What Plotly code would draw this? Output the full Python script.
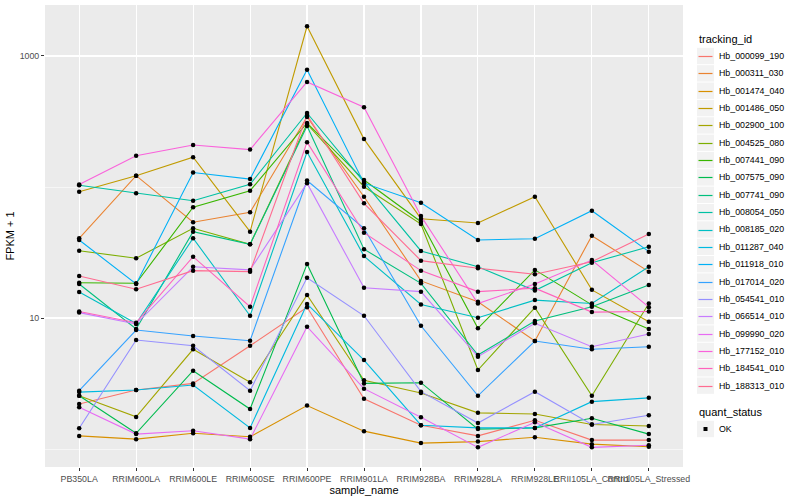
import plotly.graph_objects as go

samples = ["PB350LA", "RRIM600LA", "RRIM600LE", "RRIM600SE", "RRIM600PE", "RRIM901LA",
           "RRIM928BA", "RRIM928LA", "RRIM928LE", "RRII105LA_Control", "RRII105LA_Stressed"]

tracking_ids = ["Hb_000099_190", "Hb_000311_030", "Hb_001474_040", "Hb_001486_050", "Hb_002900_100",
                "Hb_004525_080", "Hb_007441_090", "Hb_007575_090", "Hb_007741_090", "Hb_008054_050",
                "Hb_008185_020", "Hb_011287_040", "Hb_011918_010", "Hb_017014_020", "Hb_054541_010",
                "Hb_066514_010", "Hb_099990_020", "Hb_177152_010", "Hb_184541_010", "Hb_188313_010"]

colors = ["#F8766D", "#EA8331", "#D89000", "#C09B00", "#A3A500", "#7CAE00", "#39B600", "#00BB4E",
          "#00BF7D", "#00C1A3", "#00BFC4", "#00BAE0", "#00B0F6", "#35A2FF", "#9590FF", "#C77CFF",
          "#E76BF3", "#FA62DB", "#FF62BC", "#FF6C91"]

# FPKM + 1 per tracking_id, one value per sample
fpkm_000099_190 = [2.21, 2.82, 3.17, 6.14, 12.1, 2.42, 1.52, 1.26, 1.66, 1.17, 1.17]
fpkm_000311_030 = [40.6, 122, 53.8, 64.1, 342, 84.3, 19.2, 13.3, 6.67, 42.5, 22.6]
fpkm_001474_040 = [1.26, 1.19, 1.32, 1.24, 2.15, 1.37, 1.11, 1.14, 1.23, 1.09, 1.04]
fpkm_001486_050 = [92.1, 122, 169, 45.6, 1686, 232, 57.3, 53.1, 84.3, 16.4, 9.37]
fpkm_002900_100 = [2.55, 1.76, 5.77, 3.23, 15.0, 3.35, 2.68, 1.89, 1.85, 1.54, 1.50]
fpkm_004525_080 = [32.6, 28.6, 48.4, 36.5, 303, 100.5, 52.2, 4.01, 12.0, 2.55, 12.9]
fpkm_007441_090 = [18.6, 18.4, 70.0, 93.7, 308, 113, 54.3, 8.34, 23.3, 12.6, 8.24]
fpkm_007575_090 = [2.55, 1.32, 3.96, 2.02, 25.8, 3.17, 3.21, 1.42, 1.45, 1.72, 1.30]
fpkm_007741_090 = [18.2, 8.24, 45.6, 36.5, 292, 33.5, 18.4, 5.22, 9.49, 12.2, 17.9]
fpkm_008054_050 = [103, 89.5, 78.6, 105, 367, 109, 32.5, 24.6, 16.2, 26.4, 35.0]
fpkm_008185_020 = [15.8, 9.08, 40.6, 10.4, 185, 29.7, 12.7, 10.05, 13.7, 12.9, 24.6]
fpkm_011287_040 = [2.72, 2.82, 3.08, 1.45, 12.8, 4.78, 1.52, 1.45, 1.45, 2.30, 2.46]
fpkm_011918_010 = [39.4, 18.2, 129, 115, 786, 107, 75.9, 39.4, 40.3, 65.9, 32.1]
fpkm_017014_020 = [2.79, 8.10, 7.29, 6.71, 112, 48.4, 8.73, 2.55, 6.67, 5.77, 6.04]
fpkm_054541_010 = [1.44, 6.79, 6.14, 2.79, 20.3, 10.4, 2.74, 1.58, 2.74, 1.54, 1.81]
fpkm_066514_010 = [11.0, 9.00, 24.6, 23.3, 107, 17.0, 15.9, 5.07, 9.11, 6.04, 7.55]
fpkm_099990_020 = [2.08, 1.30, 1.38, 1.19, 8.58, 2.89, 1.75, 1.03, 1.60, 1.03, 1.07]
fpkm_177152_010 = [104.5, 173, 209, 193, 633, 406, 60.1, 12.9, 18.2, 27.7, 12.1]
fpkm_184541_010 = [11.2, 9.21, 29.4, 12.2, 220, 44.8, 23.0, 15.9, 16.9, 11.1, 11.2]
fpkm_188313_010 = [20.9, 16.6, 23.0, 22.6, 354, 75.1, 27.4, 24.0, 21.6, 26.9, 43.8]

series = [fpkm_000099_190, fpkm_000311_030, fpkm_001474_040, fpkm_001486_050, fpkm_002900_100,
          fpkm_004525_080, fpkm_007441_090, fpkm_007575_090, fpkm_007741_090, fpkm_008054_050,
          fpkm_008185_020, fpkm_011287_040, fpkm_011918_010, fpkm_017014_020, fpkm_054541_010,
          fpkm_066514_010, fpkm_099990_020, fpkm_177152_010, fpkm_184541_010, fpkm_188313_010]

quant_status = "OK"

FONT = "Liberation Sans, Arial, sans-serif"
W, H = 800, 500
ML, MR, MT, MB = 45, 117, 5, 33
PW, PH = W - ML - MR, H - MT - MB


def px2paper_x(px):
    return (px - ML) / PW


def px2paper_y(py):
    return (H - MB - py) / PH


fig = go.Figure()

for tid, col, vals in zip(tracking_ids, colors, series):
    fig.add_trace(go.Scatter(
        x=samples, y=vals, mode="lines", name=tid,
        line=dict(color=col, width=1.1), showlegend=False, hoverinfo="skip"))

pts_x = [s for vals in series for s in samples]
pts_y = [v for vals in series for v in vals]
fig.add_trace(go.Scatter(
    x=pts_x, y=pts_y, mode="markers", name=quant_status, showlegend=False, hoverinfo="skip",
    marker=dict(color="black", size=4.5, symbol="circle", line=dict(width=0))))

# ---- ggplot-style legends (layout decoration) ----
shapes = []
annos = []
KX0, KX1, TX = 697, 714, 717
Y0, STEP = 56, 17.35
annos.append(dict(text="tracking_id", x=px2paper_x(KX0), y=px2paper_y(39), xref="paper", yref="paper",
                  xanchor="left", yanchor="middle", showarrow=False, font=dict(size=11, color="black")))
for i, (tid, col) in enumerate(zip(tracking_ids, colors)):
    cy = Y0 + i * STEP
    ly = round(cy) + 0.5
    shapes.append(dict(type="rect", xref="paper", yref="paper",
                       x0=px2paper_x(KX0), x1=px2paper_x(KX1),
                       y0=px2paper_y(cy - STEP / 2 + 0.5), y1=px2paper_y(cy + STEP / 2 - 0.5),
                       fillcolor="#F2F2F2", line=dict(width=0), layer="below"))
    shapes.append(dict(type="line", xref="paper", yref="paper",
                       x0=px2paper_x(KX0 + 1.5), x1=px2paper_x(KX1 - 1.5),
                       y0=px2paper_y(ly), y1=px2paper_y(ly),
                       line=dict(color=col, width=1.2)))
    annos.append(dict(text=tid, x=px2paper_x(TX), y=px2paper_y(cy), xref="paper", yref="paper",
                      xanchor="left", yanchor="middle", showarrow=False,
                      font=dict(size=8.8, color="black")))

annos.append(dict(text="quant_status", x=px2paper_x(KX0), y=px2paper_y(412), xref="paper", yref="paper",
                  xanchor="left", yanchor="middle", showarrow=False, font=dict(size=11, color="black")))
qy = 429
shapes.append(dict(type="rect", xref="paper", yref="paper",
                   x0=px2paper_x(KX0), x1=px2paper_x(KX1),
                   y0=px2paper_y(qy - STEP / 2 + 0.5), y1=px2paper_y(qy + STEP / 2 - 0.5),
                   fillcolor="#F2F2F2", line=dict(width=0), layer="below"))
shapes.append(dict(type="rect", xref="paper", yref="paper",
                   x0=px2paper_x(703.5), x1=px2paper_x(707.5),
                   y0=px2paper_y(qy - 2), y1=px2paper_y(qy + 2),
                   fillcolor="black", line=dict(width=0)))
annos.append(dict(text=quant_status, x=px2paper_x(TX), y=px2paper_y(qy), xref="paper", yref="paper",
                  xanchor="left", yanchor="middle", showarrow=False, font=dict(size=8.8, color="black")))

fig.update_layout(
    width=W, height=H,
    margin=dict(l=ML, r=MR, t=MT, b=MB, autoexpand=False),
    paper_bgcolor="white", plot_bgcolor="#EBEBEB",
    font=dict(family=FONT, color="black", size=11),
    showlegend=False, hovermode=False,
    shapes=shapes, annotations=annos,
    xaxis=dict(
        type="category", categoryorder="array", categoryarray=samples,
        range=[-0.6, len(samples) - 0.4],
        showgrid=True, gridcolor="white", gridwidth=1.1,
        ticks="outside", ticklen=3, tickcolor="#333333", tickwidth=1,
        tickangle=0, tickfont=dict(size=8.8, color="#4D4D4D"),
        title=dict(text="sample_name", font=dict(size=11), standoff=1),
        zeroline=False, showline=False, automargin=False),
    yaxis=dict(
        type="log", range=[-0.137, 3.389],
        tickvals=[10, 1000], ticktext=["10", "1000"],
        showgrid=True, gridcolor="white", gridwidth=1.1,
        minor=dict(tickvals=[1, 100], showgrid=True, gridcolor="white", gridwidth=0.55, ticklen=0),
        ticks="outside", ticklen=3, tickcolor="#333333", tickwidth=1,
        tickfont=dict(size=8.8, color="#4D4D4D"),
        title=dict(text="FPKM + 1", font=dict(size=11), standoff=2),
        zeroline=False, showline=False, automargin=False),
)

fig.write_html("out.html", config={"displayModeBar": False, "staticPlot": True},
               post_script="document.body.style.margin='0px';")
